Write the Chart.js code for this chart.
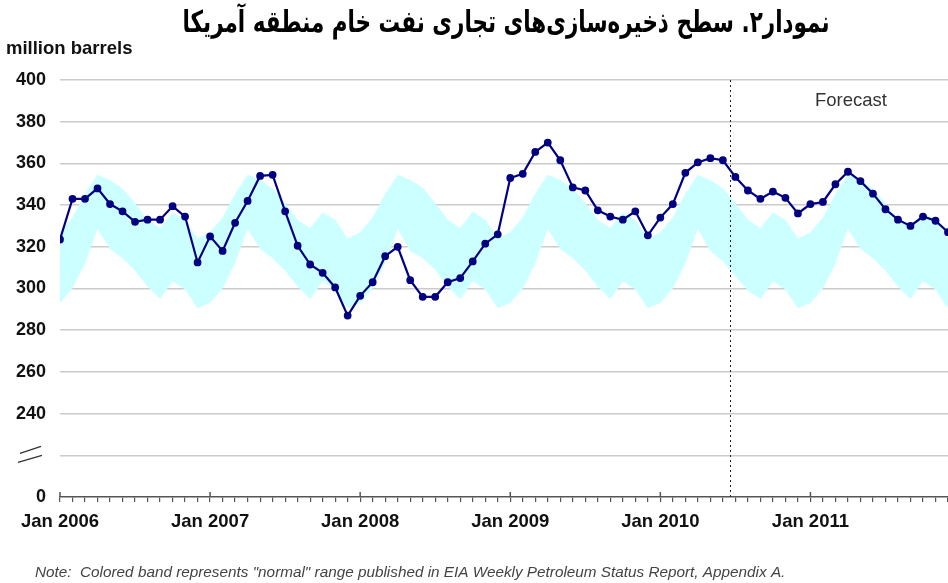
<!DOCTYPE html>
<html>
<head>
<meta charset="utf-8">
<style>
  html, body { margin: 0; padding: 0; background: #fff; }
  #wrap { width: 948px; height: 583px; }
</style>
<script src="https://cdn.jsdelivr.net/npm/chart.js@4.4.0/dist/chart.umd.min.js"></script>
</head>
<body>
<div id="wrap"><canvas id="stocks-chart" width="948" height="583"></canvas></div>
<script>
// month index 0 = Jan 2006 ... 71 = Dec 2011
var years = [2006, 2007, 2008, 2009, 2010, 2011];

// commercial crude stocks, million barrels
var stocks = [
  323.5, 343, 343, 348, 340.5, 337, 332, 333, 333, 339.5, 334.5, 312.5,
  325, 318, 331.5, 342, 354, 354.5, 337, 320.5, 311.5, 307.5, 300.5, 287,
  296.5, 303, 315.5, 320, 304, 296, 296, 303, 305, 313, 321.5, 326,
  353, 355, 365.5, 370, 361.5, 348.5, 347, 337.5, 334.5, 333, 337, 325.5,
  334, 340.5, 355.5, 360.5, 362.5, 361.5, 353.5, 347, 343, 346.5, 343.5, 336,
  340.5, 341.5, 350, 356, 351.5, 345.5, 338, 333, 330, 334.5, 332.5, 327
];

// "normal" range band
var bandHigh = [
  327, 334, 345.5, 354.5, 352, 348, 341, 333, 329, 336.5, 333, 324,
  327, 334, 345.5, 354.5, 352, 348, 341, 333, 329, 336.5, 333, 324,
  327, 334, 345.5, 354.5, 352, 348.5, 341, 333, 329, 337, 333, 324,
  327, 334, 345.5, 354.5, 352, 348, 341, 333, 329, 336.5, 333, 324,
  327, 334, 345.5, 354.5, 352, 348, 341, 333, 329, 336.5, 333, 324,
  327, 334, 345.5, 354.5, 352, 348, 341, 333, 329, 336.5, 333, 324
];
var bandLow = [
  293, 300, 312, 328.5, 319, 314.5, 308.5, 301, 295, 303.5, 299.5, 290.5,
  293, 300, 312, 328.5, 319, 314.5, 308.5, 301, 295, 303.5, 299.5, 290.5,
  293, 300, 312, 328.5, 318, 314.5, 309, 301, 295, 303.5, 299.5, 290.5,
  293, 300, 312, 328.5, 319, 314.5, 308.5, 301, 295, 303.5, 299.5, 290.5,
  293, 300, 312, 328.5, 318, 313, 306, 299, 295, 303.5, 299.5, 290.5,
  293, 300, 312, 328.5, 319, 314.5, 308.5, 301, 295, 303.5, 299.5, 290.5
];

var yTicks = [200, 220, 240, 260, 280, 300, 320, 340, 360, 380, 400];
var forecastAt = 53.6;   // start of forecast (mid 2010)

var titleText = 'نمودار۲. سطح ذخیره‌سازی‌های تجاری نفت خام منطقه آمریکا';
var unitText = 'million barrels';
var noteText = 'Note:  Colored band represents "normal" range published in EIA Weekly Petroleum Status Report, Appendix A.';

var FONT = '"Liberation Sans", Arial, sans-serif';

function pts(arr) {
  return arr.map(function(v, i){ return {x: i, y: v}; });
}

var decor = {
  id: 'decor',
  afterDatasetsDraw: function(chart) {
    var ctx = chart.ctx, xs = chart.scales.x, ys = chart.scales.y;
    var area = chart.chartArea;
    ctx.save();

    // forecast divider
    var fx = Math.round(xs.getPixelForValue(forecastAt)) + 0.5;
    ctx.strokeStyle = '#222';
    ctx.lineWidth = 1;
    ctx.setLineDash([2, 3]);
    ctx.beginPath();
    ctx.moveTo(fx, area.top);
    ctx.lineTo(fx, area.bottom);
    ctx.stroke();
    ctx.setLineDash([]);

    // major ticks reach above the axis
    ctx.strokeStyle = '#555';
    ctx.lineWidth = 1.5;
    years.forEach(function(y, k){
      var px = xs.getPixelForValue(k * 12);
      ctx.beginPath();
      ctx.moveTo(px, area.bottom - 5);
      ctx.lineTo(px, area.bottom);
      ctx.stroke();
    });

    // axis break mark
    var by = ys.getPixelForValue(220);
    ctx.strokeStyle = '#333';
    ctx.lineWidth = 1.3;
    ctx.beginPath();
    ctx.moveTo(18, by + 7); ctx.lineTo(42, by);
    ctx.moveTo(20, by - 2); ctx.lineTo(41, by - 9);
    ctx.stroke();

    ctx.fillStyle = '#333';
    ctx.font = '18.5px ' + FONT;
    ctx.textAlign = 'center';
    ctx.textBaseline = 'middle';
    ctx.fillText('Forecast', 851, 101);

    ctx.fillStyle = '#111';
    ctx.font = 'bold 18.5px ' + FONT;
    ctx.textAlign = 'left';
    ctx.fillText(unitText, 6, 49);

    ctx.fillStyle = '#444';
    ctx.font = 'italic 15.3px ' + FONT;
    ctx.fillText(noteText, 35, 573);

    // title, squeezed to the reference width
    ctx.fillStyle = '#000';
    ctx.font = 'bold 30px "DejaVu Sans", sans-serif';
    ctx.direction = 'rtl';
    ctx.textAlign = 'center';
    var w = ctx.measureText(titleText).width;
    ctx.translate(506, 24);
    ctx.scale(647 / w, 1);
    ctx.fillText(titleText, 0, 0);

    ctx.restore();
  }
};

var ctx = document.getElementById('stocks-chart').getContext('2d');
new Chart(ctx, {
  type: 'line',
  data: {
    datasets: [{
      label: 'Stocks',
      data: pts(stocks),
      borderColor: '#000080',
      backgroundColor: '#000080',
      borderWidth: 2.2,
      pointRadius: 2.8,
      pointHoverRadius: 2.8,
      tension: 0,
      fill: false,
      order: 0
    }, {
      label: 'Normal high',
      data: pts(bandHigh),
      borderWidth: 0,
      borderColor: 'rgba(0,0,0,0)',
      backgroundColor: '#ccffff',
      pointRadius: 0,
      fill: '+1',
      order: 1
    }, {
      label: 'Normal low',
      data: pts(bandLow),
      borderWidth: 0,
      borderColor: 'rgba(0,0,0,0)',
      pointRadius: 0,
      fill: false,
      order: 2
    }]
  },
  options: {
    responsive: false,
    animation: false,
    devicePixelRatio: 1,
    layout: { autoPadding: false, padding: { top: 80, right: 0, left: 0, bottom: 0 } },
    plugins: {
      legend: { display: false },
      tooltip: { enabled: false }
    },
    scales: {
      x: {
        type: 'linear',
        min: 0,
        max: 71,
        afterFit: function(s){ s.height = 86; s.paddingRight = 0; },
        border: { color: '#555', width: 1.5 },
        grid: { drawOnChartArea: false, drawTicks: true, tickLength: 5, color: '#555', lineWidth: 1.2 },
        ticks: {
          stepSize: 1,
          autoSkip: false,
          maxRotation: 0,
          padding: 9,
          color: '#111',
          font: { family: FONT, size: 18.5, weight: 'bold' },
          callback: function(v){
            return v % 12 === 0 ? 'Jan ' + years[v / 12] : '';
          }
        }
      },
      y: {
        min: yTicks[0],
        max: yTicks[yTicks.length - 1],
        afterFit: function(s){ s.width = 60; },
        afterBuildTicks: function(s){
          s.ticks = yTicks.map(function(v){ return {value: v}; });
        },
        border: { display: false },
        grid: {
          drawTicks: false,
          lineWidth: 1.5,
          color: function(c){ return c.tick && c.tick.value === 200 ? 'rgba(0,0,0,0)' : '#cbcbcb'; }
        },
        ticks: {
          padding: 14,
          color: '#111',
          font: { family: FONT, size: 18, weight: 'bold' },
          callback: function(v){
            if (v === 200) return '0';
            if (v === 220) return '';
            return String(v);
          }
        }
      }
    }
  },
  plugins: [decor]
});
</script>
</body>
</html>
